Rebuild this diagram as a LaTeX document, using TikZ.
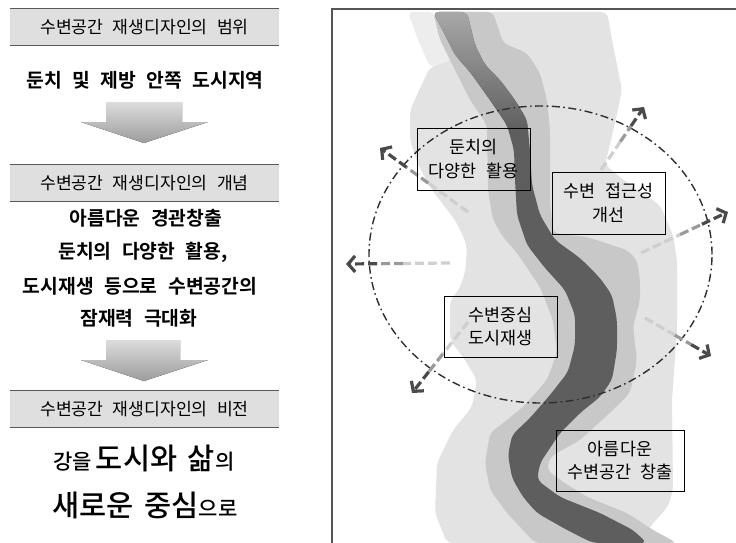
\documentclass[tikz,border=0pt]{standalone}
\usepackage{fontspec}
\setmainfont{Noto Sans CJK KR}[BoldFont={Noto Sans CJK KR Bold}, WordSpace=2.4]
\newfontfamily\visionfont{Noto Sans CJK KR Medium}[WordSpace=1.6]
\usetikzlibrary{arrows.meta,calc,shapes.geometric}

\definecolor{hdrfill}{HTML}{DFDFDF}
\definecolor{hdrline}{HTML}{5A5A5A}
\definecolor{framegray}{HTML}{555555}
\definecolor{plain}{HTML}{E3E3E3}
\definecolor{strip}{HTML}{EDEDED}
\definecolor{bank}{HTML}{C8C8C8}
\definecolor{water}{HTML}{5E5E5E}
\definecolor{waterlight}{HTML}{A8A8A8}
\definecolor{ringgray}{HTML}{2E2E2E}
\definecolor{spokeA}{HTML}{CFCFCF}
\definecolor{spokeB}{HTML}{9A9A9A}
\definecolor{spokeC}{HTML}{4A4A4A}
\definecolor{flowtop}{HTML}{DCDCDC}
\definecolor{flowbot}{HTML}{9C9C9C}

\tikzset{
  hdr/.style={fill=hdrfill, minimum width=269pt, minimum height=37pt, inner sep=0pt,
              font=\fontsize{17.2}{19}\selectfont},
  hdrrule/.style={draw=hdrline, line width=1.3pt},
  bigline/.style={inner sep=0pt, font=\bfseries\fontsize{19.3}{22}\selectfont},
  vision/.style={inner sep=0pt, font=\visionfont},
  mapbox/.style={draw=black, line width=0.9pt, inner sep=0pt, align=center,
                 font=\fontsize{17.4}{23.5}\selectfont},
  ring/.style={draw=ringgray, line width=1.4pt, dash pattern=on 8pt off 3.5pt on 1.6pt off 3.5pt},
  spoke/.style={line width=3.2pt, dash pattern=on 9pt off 4pt},
  spoketip/.style={-{Straight Barb[length=7pt,width=16pt]}},
  flow/.style={top color=flowtop, bottom color=flowbot, draw=none},
  panel/.style={draw=framegray, line width=1.3pt},
}

% dashed spoke that darkens towards its head
\newcommand\fadespoke[2]{%
  \draw[spoke, spokeA] (#1) -- ($(#1)!0.45!(#2)$);
  \draw[spoke, spokeB] ($(#1)!0.45!(#2)$) -- ($(#1)!0.7!(#2)$);
  \draw[spoke, spokeC, spoketip] ($(#1)!0.7!(#2)$) -- (#2);
}

\begin{document}
\begin{tikzpicture}[x=1pt,y=-1pt]
\useasboundingbox (0,0) rectangle (736,543);

% ---------------- left column ----------------
\node[hdr] (h1) at (144.5,27) {수변공간 재생디자인의 범위};
\draw[hdrrule] (h1.north west) -- (h1.north east);
\draw[hdrrule] (h1.south west) -- (h1.south east);
\node[bigline] (scope) at (145,80) {둔치 및 제방 안쪽 도시지역};

\fill[flow] (106,102) -- (182,102) -- (182,122) -- (208,122) -- (144,143)
            -- (81,122) -- (106,122) -- cycle;

\node[hdr] (h2) at (144.5,183) {수변공간 재생디자인의 개념};
\draw[hdrrule] (h2.north west) -- (h2.north east);
\draw[hdrrule] (h2.south west) -- (h2.south east);
\node[bigline] (c1) at (146,218) {아름다운 경관창출};
\node[bigline] (c2) at (143,252) {둔치의 다양한 활용,};
\node[bigline] (c3) at (140,286) {도시재생 등으로 수변공간의};
\node[bigline] (c4) at (139,318) {잠재력 극대화};

\fill[flow] (106,340) -- (180,340) -- (180,360) -- (208,360) -- (144,381)
            -- (81,360) -- (106,360) -- cycle;

\node[hdr] (h3) at (144.5,409) {수변공간 재생디자인의 비전};
\draw[hdrrule] (h3.north west) -- (h3.north east);
\draw[hdrrule] (h3.south west) -- (h3.south east);
\node[vision] (v1) at (144,458) {{\fontsize{21}{21}\selectfont 강을} {\fontsize{29.5}{29.5}\selectfont 도시와 삶}{\fontsize{21}{21}\selectfont 의}};
\node[vision] (v2) at (145,505) {{\fontsize{29.5}{29.5}\selectfont 새로운 중심}{\fontsize{21}{21}\selectfont 으로}};

% ---------------- river map ----------------
% floodplain
\fill[plain, rounded corners=6pt]
  (433,12) -- (607,12) -- (614,50) -- (622,90) -- (615,123) -- (605,165)
  -- (630,185) -- (660,205) -- (673,235) -- (677,260) -- (677,330) -- (672,400)
  -- (673,490) -- (668,507) -- (653,523) -- (640,543) -- (447,543) -- (435,513)
  -- (437,463) -- (453,430) -- (472,407) -- (477,380) -- (465,360) -- (450,340)
  -- (450,300) -- (459,290) -- (465,273) -- (467,250) -- (465,240) -- (455,220)
  -- (432,190) -- (418,165) -- (410,140) -- (410,110) -- (430,67) -- (452,60)
  -- (445,35) -- cycle;
% pale strip at the upper bank
\fill[strip, rounded corners=4pt]
  (408,12) -- (433,12) -- (445,35) -- (452,60) -- (430,67) -- (418,40) -- cycle;
% river banks
\fill[bank, rounded corners=6pt]
  (433,12) -- (440,40) -- (455,70) -- (470,100) -- (487,125) -- (488,190)
  -- (493,220) -- (503,237) -- (517,253) -- (540,287) -- (553,320) -- (557,353)
  -- (547,380) -- (523,407) -- (507,420) -- (490,433) -- (485,463) -- (490,490)
  -- (507,513) -- (535,543) -- (677,543) -- (653,530) -- (627,513) -- (587,497)
  -- (560,480) -- (547,470) -- (550,457) -- (580,440) -- (613,410) -- (630,393)
  -- (637,360) -- (633,327) -- (640,300) -- (640,280) -- (637,260) -- (627,250)
  -- (587,237) -- (553,233) -- (550,200) -- (550,130) -- (547,100) -- (540,73)
  -- (527,53) -- (503,43) -- (493,12) -- cycle;
% water
\fill[water, rounded corners=6pt]
  (433,12) -- (445,35) -- (455,55) -- (470,72) -- (490,100) -- (507,125)
  -- (514,150) -- (515,180) -- (517,215) -- (527,245) -- (545,268) -- (565,290)
  -- (575,315) -- (575,345) -- (568,372) -- (550,395) -- (530,418) -- (512,435)
  -- (508,455) -- (512,478) -- (523,497) -- (537,513) -- (567,530) -- (593,543)
  -- (647,543) -- (633,530) -- (600,513) -- (560,497) -- (537,480) -- (540,463)
  -- (560,433) -- (580,413) -- (600,397) -- (612,380) -- (617,350) -- (617,320)
  -- (612,295) -- (600,278) -- (580,258) -- (555,240) -- (540,215) -- (532,185)
  -- (530,150) -- (527,120) -- (515,100) -- (500,80) -- (485,65) -- (475,45)
  -- (467,12) -- cycle;
% lighter upstream reach
\shade[top color=waterlight, bottom color=water, rounded corners=6pt]
  (433,12) -- (445,35) -- (455,55) -- (470,72) -- (490,100) -- (507,125)
  -- (509,131) -- (528,131) -- (527,120) -- (515,100) -- (500,80) -- (485,65)
  -- (475,45) -- (467,12) -- cycle;

% panel frame
\draw[panel] (332,543) -- (332,9) -- (736,9);

% zone of influence
\node[ring, ellipse, minimum width=343pt, minimum height=297pt, inner sep=0pt] (zone) at (540.5,254.5) {};

% spokes
\coordinate (s1) at (468,212);  \coordinate (t1) at (380,148);
\coordinate (s2) at (450,263);  \coordinate (t2) at (346,264);
\coordinate (s3) at (601,170);  \coordinate (t3) at (644,107);
\coordinate (s4) at (641,253);  \coordinate (t4) at (728,212);
\coordinate (s5) at (645,318);  \coordinate (t5) at (711,356);
\coordinate (s6) at (468,322);  \coordinate (t6) at (412,393);
\fadespoke{s1}{t1}
\fadespoke{s2}{t2}
\fadespoke{s3}{t3}
\fadespoke{s4}{t4}
\fadespoke{s5}{t5}
\fadespoke{s6}{t6}

% labels
\node[mapbox, minimum width=113pt, minimum height=62pt] (b1) at (473.5,159) {둔치의\\다양한 활용};
\node[mapbox, minimum width=113pt, minimum height=62pt] (b2) at (608.5,203) {수변 접근성\\개선};
\node[mapbox, minimum width=113pt, minimum height=61pt] (b3) at (500.5,326.5) {수변중심\\도시재생};
\node[mapbox, minimum width=128pt, minimum height=61pt] (b4) at (620,460.5) {아름다운\\수변공간 창출};

\end{tikzpicture}
\end{document}
